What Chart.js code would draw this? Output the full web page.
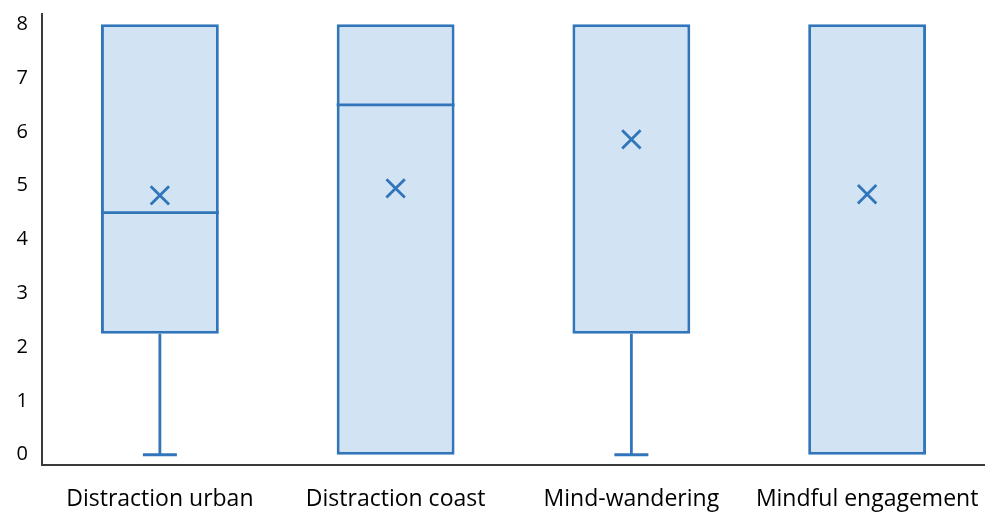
<!DOCTYPE html>
<html>
<head>
<meta charset="utf-8">
<script src="https://cdn.jsdelivr.net/npm/chart.js@4"></script>
<style>
  html, body { margin: 0; padding: 0; background: #fff; }
  #wrap { width: 985px; height: 513px; }
</style>
</head>
<body>
<div id="wrap"><canvas id="box"></canvas></div>
<script>
const categories = ['Distraction urban', 'Distraction coast', 'Mind-wandering', 'Mindful engagement']
const mins = [0, 0, 0, 0]
const q1s = [2.25, 0, 2.25, 0]
const medians = [4.5, 6.5, 8, 8]
const q3s = [8, 8, 8, 8]
const maxs = [8, 8, 8, 8]
const means = [4.82, 4.95, 5.86, 4.84]
const yTicks = [0, 1, 2, 3, 4, 5, 6, 7, 8]

const blue = '#3175ba'
const fill = '#d2e3f3'

// whiskers + median lines, placed through the chart scales
const boxExtras = {
  id: 'boxExtras',
  afterDatasetsDraw(chart) {
    const { ctx, scales: { x, y } } = chart
    const meta = chart.getDatasetMeta(0)
    ctx.save()
    ctx.strokeStyle = blue
    ctx.lineWidth = 2.8
    categories.forEach((c, i) => {
      const bar = meta.data[i]
      const cx = x.getPixelForValue(i)
      const half = bar.width / 2
      const capHalf = 17
      ctx.beginPath()
      // median (skip when it sits on the box edge)
      if (medians[i] > q1s[i] && medians[i] < q3s[i]) {
        ctx.moveTo(cx - half, y.getPixelForValue(medians[i]))
        ctx.lineTo(cx + half, y.getPixelForValue(medians[i]))
      }
      // lower whisker
      if (mins[i] < q1s[i]) {
        ctx.moveTo(cx, y.getPixelForValue(q1s[i]))
        ctx.lineTo(cx, y.getPixelForValue(mins[i]))
        ctx.moveTo(cx - capHalf, y.getPixelForValue(mins[i]))
        ctx.lineTo(cx + capHalf, y.getPixelForValue(mins[i]))
      }
      // upper whisker
      if (maxs[i] > q3s[i]) {
        ctx.moveTo(cx, y.getPixelForValue(q3s[i]))
        ctx.lineTo(cx, y.getPixelForValue(maxs[i]))
        ctx.moveTo(cx - capHalf, y.getPixelForValue(maxs[i]))
        ctx.lineTo(cx + capHalf, y.getPixelForValue(maxs[i]))
      }
      ctx.stroke()
    })
    ctx.restore()
  }
}

new Chart(document.getElementById('box'), {
  data: {
    labels: categories,
    datasets: [
      {
        type: 'bar',
        data: categories.map((c, i) => [q1s[i], q3s[i]]),
        backgroundColor: fill,
        borderColor: blue,
        borderWidth: 3,
        borderSkipped: false,
        barPercentage: 0.5,
        categoryPercentage: 1,
        order: 2
      },
      {
        type: 'line',
        data: means,
        showLine: false,
        pointStyle: 'crossRot',
        pointRadius: 13,
        borderColor: blue,
        pointBorderWidth: 2.8,
        order: 1
      }
    ]
  },
  options: {
    responsive: true,
    maintainAspectRatio: false,
    animation: false,
    layout: { autoPadding: false, padding: { top: 14, right: 0, left: 0, bottom: 0 } },
    plugins: { legend: { display: false }, tooltip: { enabled: false } },
    scales: {
      x: {
        grid: { display: false, drawTicks: false },
        border: { color: '#3a3a3a', width: 2 },
        ticks: { color: '#000', font: { family: 'Open Sans', size: 23 }, padding: 21, maxRotation: 0 },
        afterFit: s => { s.height = 48; s.paddingLeft = 0; s.paddingRight = 0 }
      },
      y: {
        min: -0.19,
        max: 8.19,
        grid: { display: false, drawTicks: false },
        border: { color: '#3a3a3a', width: 2 },
        ticks: { color: '#000', font: { family: 'Open Sans', size: 20 }, padding: 14 },
        afterBuildTicks: s => { s.ticks = yTicks.map(v => ({ value: v })) },
        afterFit: s => { s.width = 42; s.paddingTop = 0; s.paddingBottom = 0 }
      }
    }
  },
  plugins: [boxExtras]
})
</script>
</body>
</html>
